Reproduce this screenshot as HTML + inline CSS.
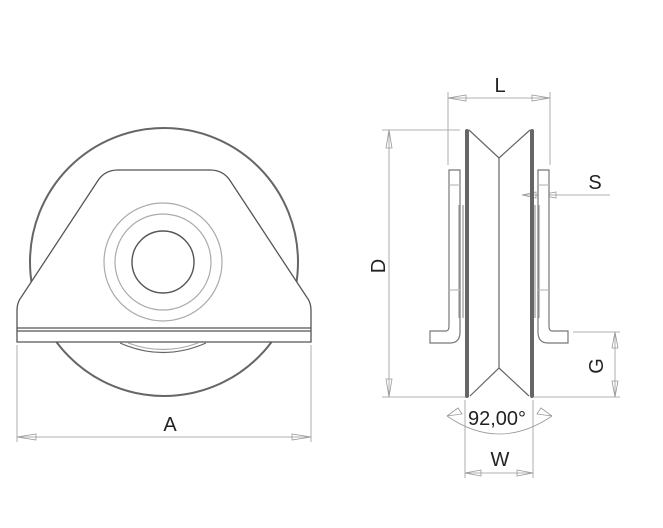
<!DOCTYPE html>
<html><head><meta charset="utf-8"><style>
html,body{margin:0;padding:0;background:#fff;}
svg{display:block;}
text{font-family:"Liberation Sans",sans-serif;fill:#222;}
</style></head><body>
<svg width="663" height="528" viewBox="0 0 663 528" xmlns="http://www.w3.org/2000/svg">
<g fill="none" stroke="#555" stroke-width="1.2">
<circle cx="164" cy="262" r="134" stroke="#666" stroke-width="2"/>
<path d="M17 342 L17 310 Q17 302 22 296 L97 182 Q104 170 118 170 L210 170 Q224 170 231 182 L306 296 Q311 302 311 310 L311 342 Z" fill="#fff" stroke="#555" stroke-width="1.3"/>
<line x1="17" y1="328" x2="311" y2="328"/>
<line x1="17" y1="331" x2="311" y2="331"/>
<circle cx="163" cy="262" r="59" stroke="#aaa"/>
<circle cx="163" cy="262" r="48" stroke="#aaa"/>
<circle cx="163" cy="262" r="31" stroke="#555" stroke-width="1.4"/>
<path d="M120 343 Q163 362 206 343" stroke="#666"/>
<path d="M128 343 Q163 356 198 343" stroke="#aaa"/>
<g stroke="#999" stroke-width="0.8">
<line x1="17" y1="345" x2="17" y2="442"/>
<line x1="311" y1="345" x2="311" y2="442"/>
<line x1="17" y1="437" x2="311" y2="437"/>
<path d="M17 437 L36 434 L36 440 Z"/>
<path d="M311 437 L292 434 L292 440 Z"/>
</g>
<g stroke="#999" stroke-width="0.8">
<line x1="448" y1="92" x2="448" y2="165"/>
<line x1="550" y1="92" x2="550" y2="165"/>
<line x1="448" y1="98" x2="550" y2="98"/>
<path d="M448 98 L466 95 L466 101 Z"/><path d="M550 98 L532 95 L532 101 Z"/>
<line x1="382" y1="130" x2="460" y2="130"/>
<line x1="382" y1="397" x2="466" y2="397"/>
<line x1="389" y1="130" x2="389" y2="397"/>
<path d="M389 130 L386 148 L392 148 Z"/><path d="M389 397 L386 379 L392 379 Z"/>
<line x1="522" y1="195" x2="610" y2="195"/>
<path d="M522 195 L536 192 L536 198 Z"/><path d="M540 195 L556 192 L556 198 Z"/>
<line x1="573" y1="332" x2="620" y2="332"/>
<line x1="534" y1="397" x2="620" y2="397"/>
<line x1="615" y1="332" x2="615" y2="397"/>
<path d="M615 332 L612 348 L618 348 Z"/><path d="M615 397 L612 381 L618 381 Z"/>
<line x1="465" y1="400" x2="465" y2="478"/>
<line x1="533" y1="400" x2="533" y2="478"/>
<line x1="465" y1="473" x2="533" y2="473"/>
<path d="M465 473 L481 470 L481 476 Z"/><path d="M533 473 L517 470 L517 476 Z"/>
<path d="M447 416 Q499 452 552 416"/>
<path d="M447 416 L458 408 L462 414 Z"/><path d="M552 416 L541 408 L537 414 Z"/>
</g>
<path d="M449 170 L460 170 L460 332 Q460 343 450 343 L430 343 L430 331 L446 331 Q449 331 449 326 Z" fill="#fff" stroke="#777"/>
<line x1="459" y1="205" x2="459" y2="318" stroke="#999"/>
<line x1="463" y1="205" x2="463" y2="318" stroke="#999"/>
<line x1="449" y1="185" x2="460" y2="185" stroke="#bbb"/>
<line x1="449" y1="290" x2="460" y2="290" stroke="#bbb"/>
<path d="M549 170 L538 170 L538 332 Q538 343 548 343 L568 343 L568 331 L552 331 Q549 331 549 326 Z" fill="#fff" stroke="#777"/>
<line x1="539" y1="205" x2="539" y2="318" stroke="#999"/>
<line x1="535" y1="205" x2="535" y2="318" stroke="#999"/>
<line x1="538" y1="185" x2="549" y2="185" stroke="#bbb"/>
<line x1="538" y1="290" x2="549" y2="290" stroke="#bbb"/>
<line x1="467" y1="131" x2="467" y2="396" stroke="#666" stroke-width="4" stroke-linecap="round"/>
<line x1="532" y1="131" x2="532" y2="396" stroke="#666" stroke-width="4" stroke-linecap="round"/>
<polyline points="469,130 499,158 530,130" stroke="#666"/>
<line x1="499" y1="158" x2="499" y2="368" stroke="#666"/>
<polyline points="470,396 499,368 529,396" stroke="#666"/>
</g>
<text x="170" y="431" font-size="20" text-anchor="middle">A</text>
<text x="500" y="92" font-size="20" text-anchor="middle">L</text>
<text x="595" y="189" font-size="20" text-anchor="middle">S</text>
<text x="378" y="266" font-size="20" text-anchor="middle" transform="rotate(-90 378 266)" dy="7">D</text>
<text x="596" y="366" font-size="20" text-anchor="middle" transform="rotate(-90 596 366)" dy="7">G</text>
<text x="497" y="425" font-size="20" text-anchor="middle">92,00°</text>
<text x="500" y="466" font-size="20" text-anchor="middle">W</text>
</svg>
</body></html>
